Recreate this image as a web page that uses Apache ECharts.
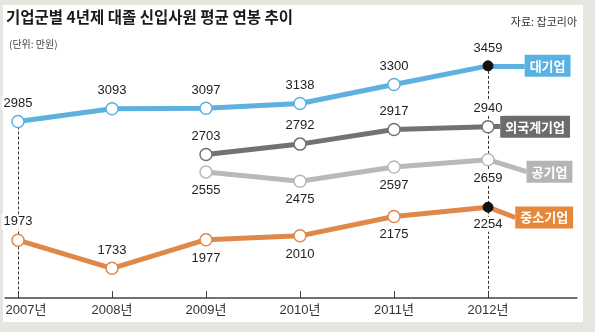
<!DOCTYPE html>
<html>
<head>
<meta charset="utf-8">
<script src="https://cdn.jsdelivr.net/npm/echarts@6/dist/echarts.min.js"></script>
<style>
  html, body { margin: 0; padding: 0; background: #e7e5e0; }
  #chart { width: 595px; height: 332px; }
</style>
</head>
<body>
<div id="chart"></div>
<script>
// 연도 (x축)
const years = [2007, 2008, 2009, 2010, 2011, 2012];

// 기업군별 대졸 신입사원 평균 연봉 (단위: 만원)
const seriesNames = ['대기업', '외국계기업', '공기업', '중소기업'];
const largeCorp   = [2985, 3093, 3097, 3138, 3300, 3459];
const foreignCorp = [null, null, 2703, 2792, 2917, 2940];
const publicCorp  = [null, null, 2555, 2475, 2597, 2659];
const smallCorp   = [1973, 1733, 1977, 2010, 2175, 2254];

const FONT = "'Liberation Sans','Noto Sans CJK KR',sans-serif";
const KFONT = "'Noto Sans CJK KR',sans-serif";

const Y_MIN = 1480, Y_MAX = 3850;

// 시리즈별 스타일: 색, 값 라벨 위치, 끝 태그 연결선 오프셋(연도, 값)
const styles = [
  { color: '#5eb0de', tag: '#58b2e3', labelPos: ['top','top','top','top','top','top'], dx: 0.39, dy: 0, darkEnd: true },
  { color: '#727272', tag: '#6c6c6c', labelPos: ['top','top','top','top','top','top'], dx: 0.13, dy: 0, darkEnd: false },
  { color: '#b9b9b9', tag: '#b5b5b5', labelPos: ['bottom','bottom','bottom','bottom','bottom','bottom'], dx: 0.41, dy: -102, darkEnd: false },
  { color: '#e0884a', tag: '#e5883c', labelPos: ['top','top','bottom','bottom','bottom','bottom'], dx: 0.29, dy: -88, darkEnd: true }
];

const allValues = [largeCorp, foreignCorp, publicCorp, smallCorp];

function buildSeries(idx) {
  const vals = allValues[idx];
  const st = styles[idx];
  const data = [];
  let last = null;
  years.forEach((yr, i) => {
    if (vals[i] == null) return;
    const item = {
      value: [yr, vals[i]],
      label: { position: st.labelPos[i] }
    };
    if (i === years.length - 1 && st.darkEnd) {
      item.symbolSize = 10;
      item.itemStyle = { color: '#111', borderColor: '#111', borderWidth: 1 };
    }
    data.push(item);
    last = [yr, vals[i]];
  });

  // 마지막 점에서 이어지는 시리즈 이름 태그
  const markData = [
    [
      {
        coord: last,
        label: {
          show: true,
          position: 'end',
          distance: 0,
          formatter: seriesNames[idx],
          color: '#fff',
          fontFamily: KFONT,
          fontWeight: 'bold',
          fontSize: 13,
          backgroundColor: st.tag,
          padding: [5, 5, 4, 5]
        }
      },
      { coord: [last[0] + st.dx, last[1] + st.dy] }
    ]
  ];

  // 2007년·2012년 기준 점선 (대기업 값에서 x축까지)
  if (idx === 0) {
    [0, years.length - 1].forEach(i => {
      markData.push([
        { coord: [years[i], vals[i]], lineStyle: { type: [3, 2], width: 1, color: '#333' }, label: { show: false } },
        { coord: [years[i], Y_MIN] }
      ]);
    });
  }

  return {
    name: seriesNames[idx],
    type: 'line',
    data: data,
    symbol: 'circle',
    symbolSize: 12,
    lineStyle: { color: st.color, width: 5 },
    itemStyle: { color: '#fff', borderColor: st.color, borderWidth: 1.5 },
    label: {
      show: true,
      formatter: p => p.value[1],
      color: '#222',
      fontFamily: FONT,
      fontSize: 13,
      distance: 4,
      backgroundColor: '#fff',
      padding: [1, 2]
    },
    markLine: {
      z: 1,
      silent: true,
      symbol: ['none', 'none'],
      animation: false,
      lineStyle: { color: st.color, width: 5, type: 'solid' },
      emphasis: { disabled: true },
      data: markData
    }
  };
}

const chart = echarts.init(document.getElementById('chart'), null, { renderer: 'canvas' });

chart.setOption({
  animation: false,
  backgroundColor: '#e7e5e0',
  graphic: [
    {
      type: 'rect',
      z: -10,
      shape: { x: 3, y: 5, width: 580, height: 317 },
      style: { fill: '#ffffff' },
      silent: true
    }
  ],
  title: [
    {
      text: '기업군별 4년제 대졸 신입사원 평균 연봉 추이',
      left: 6, top: 9, padding: 0,
      textStyle: { fontFamily: KFONT, fontSize: 15.5, fontWeight: 'bold', color: '#1a1a1a' }
    },
    {
      text: '(단위: 만원)',
      left: 9, top: 39, padding: 0,
      textStyle: { fontFamily: KFONT, fontSize: 10, fontWeight: 'normal', color: '#444' }
    },
    {
      text: '자료: 잡코리아',
      right: 18, top: 16, padding: 0,
      textStyle: { fontFamily: KFONT, fontSize: 11, fontWeight: 'normal', color: '#333' }
    }
  ],
  grid: { left: 5, right: 18, top: 20, bottom: 34 },
  xAxis: {
    type: 'value',
    min: 2007 - 13 / 94,
    max: 2012 + 89 / 94,
    splitLine: { show: false },
    axisLine: { show: true, lineStyle: { color: '#444', width: 1.5 } },
    axisTick: {
      show: true,
      inside: true,
      length: 7,
      customValues: years,
      lineStyle: { color: '#444', width: 1 }
    },
    axisLabel: {
      customValues: years,
      margin: 6,
      color: '#333',
      fontFamily: FONT,
      fontSize: 13,
      formatter: v => v === years[0] ? '{f|' + v + '년}' : v + '년',
      rich: { f: { padding: [0, 0, 0, 16] } }
    }
  },
  yAxis: {
    type: 'value',
    min: Y_MIN,
    max: Y_MAX,
    show: false,
    splitLine: { show: false }
  },
  series: [0, 1, 2, 3].map(buildSeries)
});
</script>
</body>
</html>
